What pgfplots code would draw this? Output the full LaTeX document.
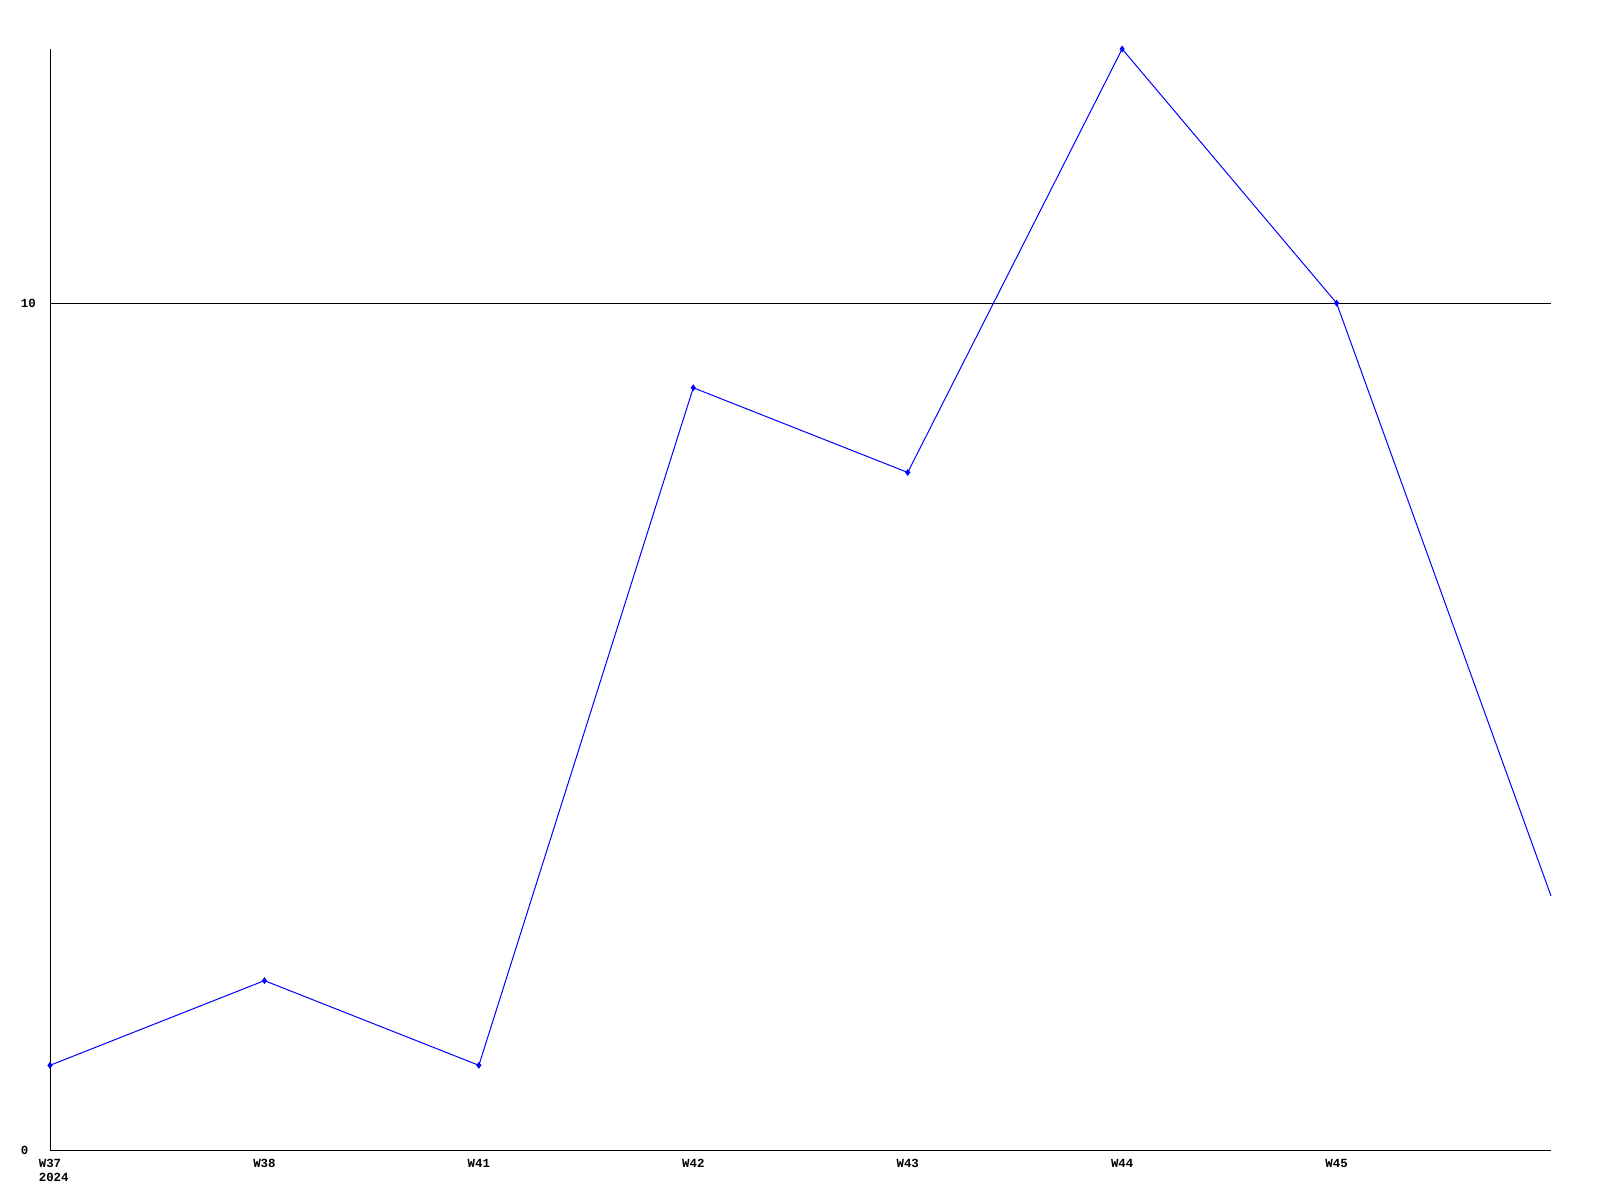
\documentclass[border=0pt]{standalone}
\usepackage{pgfplots}
\pgfplotsset{compat=1.18}
\usepackage{fontspec}
\setmainfont{Liberation Mono}
\begin{document}
\begin{tikzpicture}[font=\fontsize{6.2}{7.3}\selectfont\bfseries]
\begin{axis}[
  scale only axis,
  width=750.5pt, height=550.5pt,
  xmin=0, xmax=7, ymin=0, ymax=13,
  axis x line*=bottom, axis y line*=left,
  axis line style={black, line width=0.5pt, -},
  xtick={0,1,2,3,4,5,6},
  xticklabels={W37\\2024,W38,W41,W42,W43,W44,W45},
  xticklabel style={align=left, anchor=north west, xshift=-9.1pt, yshift=-1pt},
  ytick={0,10},
  yticklabel style={anchor=west, xshift=-18.1pt},
  major tick length=0pt,
  /pgf/number format/assume math mode=true,
  clip=false,
]
\addplot[black, line width=0.5pt] coordinates {(0,10) (7,10)};
\addplot[blue, line width=0.5pt, mark=diamond*, mark size=1.3pt, mark indices={1,2,3,4,5,6,7}, mark options={fill=blue}]
  coordinates {(0,1) (1,2) (2,1) (3,9) (4,8) (5,13) (6,10) (7,3)};
\end{axis}
\path ([xshift=-25pt,yshift=-25pt]current axis.south west) rectangle ([xshift=24.5pt,yshift=24.5pt]current axis.north east);
\end{tikzpicture}
\end{document}
